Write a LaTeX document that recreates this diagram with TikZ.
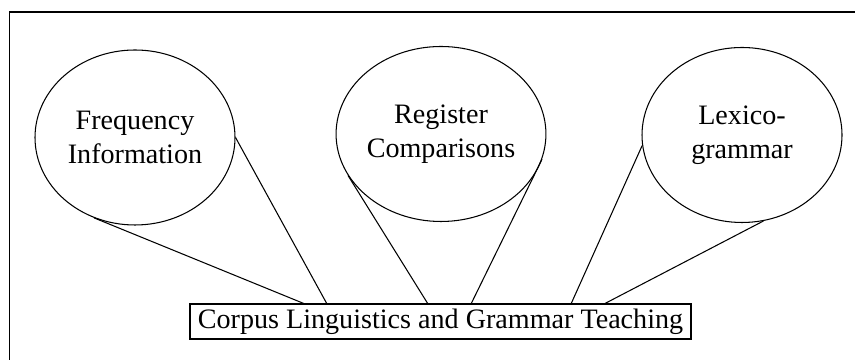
\documentclass[tikz,border=0pt]{standalone}
\usepackage{fontspec}
\setmainfont{Liberation Serif}
\usetikzlibrary{shapes.geometric}
\tikzstyle{topic}=[ellipse,draw=black,line width=0.6pt,inner sep=0pt,
  minimum width=4cm,minimum height=3.5cm,align=center,font=\fontsize{16}{19.2}\selectfont]
\tikzstyle{main}=[rectangle,draw=black,line width=0.6pt,inner sep=0pt,
  minimum width=10.02cm,minimum height=0.7cm,font=\fontsize{16}{19.2}\selectfont]
\tikzstyle{pageframe}=[draw=black,line width=0.9pt]
\tikzstyle{none}=[]
\begin{document}
\begin{tikzpicture}[line width=0.6pt]
	\useasboundingbox (0, 0) rectangle (17.1, 7.2);
	\draw [style=pageframe] (0.19, -1) rectangle (18, 6.96);
	\node [style=topic] (0) at (2.7, 4.45) {Frequency\\Information};
	\node [style=topic] (1) at (8.82, 4.52) {Register\\Comparisons};
	\node [style=topic] (2) at (14.84, 4.5) {Lexico-\\grammar};
	\node [style=main] (3) at (8.81, 0.77) {Corpus Linguistics and Grammar Teaching};
	\node [style=none] (4) at (6.1, 1.12) {};
	\node [style=none] (5) at (6.54, 1.12) {};
	\node [style=none] (6) at (8.56, 1.12) {};
	\node [style=none] (7) at (9.42, 1.12) {};
	\node [style=none] (8) at (11.42, 1.12) {};
	\node [style=none] (9) at (12.08, 1.12) {};
	\draw (0.243) to (4.center);
	\draw (0.0) to (5.center);
	\draw (1.204) to (6.center);
	\draw (1.346) to (7.center);
	\draw (2.186) to (8.center);
	\draw (2.284) to (9.center);
\end{tikzpicture}
\end{document}
